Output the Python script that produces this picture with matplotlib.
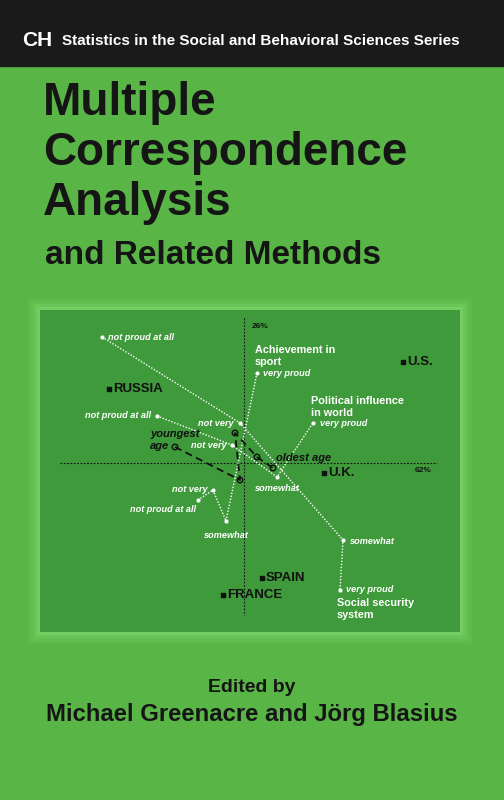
import matplotlib
matplotlib.use("Agg")
import matplotlib.pyplot as plt
from matplotlib.patches import Rectangle

# ---- data (page-pixel map positions) ----
countries = ["RUSSIA", "U.S.", "U.K.", "SPAIN", "FRANCE"]
country_x = [109, 403, 324, 262, 223]
country_y = [389, 362, 473, 578, 595]

sport_labels = ["very proud", "somewhat", "not very", "not proud at all"]
sport_x = [257, 226, 213, 198]
sport_y = [373, 521, 490, 500]

social_labels = ["not proud at all", "not very", "somewhat", "very proud"]
social_x = [102, 240, 343, 340]
social_y = [337, 423, 540, 590]

polit_labels = ["not proud at all", "not very", "somewhat", "very proud"]
polit_x = [157, 232, 277, 313]
polit_y = [416, 445, 477, 423]

age_x = [175, 240, 235, 257, 273]
age_y = [447, 480, 433, 457, 468]

BG = "#59b646"
PANEL = "#3e9a3a"

fig = plt.figure(figsize=(5.04, 8.0), dpi=100)
fig.patch.set_facecolor(BG)
ax = fig.add_axes([0, 0, 1, 1])
ax.set_xlim(0, 504)
ax.set_ylim(800, 0)
ax.axis("off")
ax.add_patch(Rectangle((0, 0), 504, 800, color=BG, zorder=0))

# top bar
ax.add_patch(Rectangle((0, 0), 504, 66, color="#1a1a1a", zorder=1))
ax.text(22, 41, "CH", color="white", fontsize=15, fontweight="bold",
        family="Liberation Sans", va="center", ha="left")
ax.text(62, 41, "Statistics in the Social and Behavioral Sciences Series",
        color="white", fontsize=11, fontweight="bold", family="Liberation Sans",
        va="center", ha="left")

# titles
for t, y in [("Multiple", 103), ("Correspondence", 153), ("Analysis", 203)]:
    ax.text(43, y, t, fontsize=33, fontweight="bold", family="Liberation Sans",
            color="#151515", va="center", ha="left")
ax.text(45, 256, "and Related Methods", fontsize=24, fontweight="bold",
        family="Liberation Sans", color="#151515", va="center", ha="left")

# panel with glow
for i, a in enumerate([0.10, 0.14, 0.2, 0.3]):
    g = 12 - i * 3
    ax.add_patch(Rectangle((40 - g, 310 - g), 420 + 2 * g, 322 + 2 * g,
                           color="#8ee07a", alpha=a, lw=0, zorder=1))
ax.add_patch(Rectangle((40, 310), 420, 322, color=PANEL, lw=0, zorder=2))

# axes lines
ax.plot([244, 244], [318, 615], color="#111", lw=0.8, ls=(0, (1.5, 1.5)), zorder=3)
ax.plot([60, 437], [463, 463], color="#111", lw=0.8, ls=(0, (1.5, 1.5)), zorder=3)
ax.text(252, 326, "26%", fontsize=6, fontweight="bold", color="#111",
        family="Liberation Sans", va="center")
ax.text(423, 470, "62%", fontsize=6, fontweight="bold", color="#111",
        family="Liberation Sans", va="center", ha="center")

wl = dict(color="white", lw=1.0, ls=(0, (1, 1.2)), zorder=4)
for xs, ys in [(sport_x, sport_y), (social_x, social_y), (polit_x, polit_y)]:
    ax.plot(xs, ys, **wl)
    ax.scatter(xs, ys, s=4, color="white", zorder=5)

it = dict(color="white", fontsize=6.6, style="italic", fontweight="bold",
          family="Liberation Sans", zorder=6)
# sport labels
ax.text(263, 373, sport_labels[0], va="center", **it)
ax.text(226, 531, sport_labels[1], va="top", ha="center", **it)
ax.text(208, 490, sport_labels[2], va="center", ha="right", **it)
ax.text(196, 509, sport_labels[3], va="center", ha="right", **it)
# social
ax.text(108, 337, social_labels[0], va="center", **it)
ax.text(234, 424, social_labels[1], va="center", ha="right", **it)
ax.text(350, 541, social_labels[2], va="center", **it)
ax.text(346, 590, social_labels[3], va="center", **it)
# political
ax.text(151, 416, polit_labels[0], va="center", ha="right", **it)
ax.text(227, 446, polit_labels[1], va="center", ha="right", **it)
ax.text(277, 484, polit_labels[2], va="top", ha="center", **it)
ax.text(320, 424, polit_labels[3], va="center", **it)

hd = dict(color="white", fontsize=7.8, fontweight="bold", family="Liberation Sans",
          zorder=6, va="center", linespacing=1.25)
ax.text(255, 356, "Achievement in\nsport", **hd)
ax.text(311, 407, "Political influence\nin world", **hd)
ax.text(337, 609, "Social security\nsystem", **hd)

# age
ax.plot(age_x, age_y, color="#111", lw=1.3, ls=(0, (4, 2.5)), zorder=5)
ax.scatter(age_x, age_y, s=16, facecolor="none", edgecolor="#111", lw=1, zorder=6)
ak = dict(color="#111", fontsize=8, style="italic", fontweight="bold",
          family="Liberation Sans", zorder=6, va="center")
ax.text(150, 434, "youngest", ha="left", **ak)
ax.text(150, 446, "age", ha="left", **ak)
ax.text(276, 458, "oldest age", ha="left", **ak)

# countries
ax.scatter(country_x, country_y, marker="s", s=10, color="#111", zorder=6)
for n, x, y in zip(countries, country_x, country_y):
    ax.text(x + 4, y, n, fontsize=9.5, fontweight="bold", family="Liberation Sans",
            color="#111", va="center", ha="left", zorder=6)

# bottom
ax.text(252, 688, "Edited by", fontsize=14, fontweight="bold",
        family="Liberation Sans", color="#151515", ha="center", va="center")
ax.text(252, 715, "Michael Greenacre and Jörg Blasius", fontsize=17.2,
        fontweight="bold", family="Liberation Sans", color="#151515",
        ha="center", va="center")

fig.savefig("out.png", dpi=100, facecolor=BG)
